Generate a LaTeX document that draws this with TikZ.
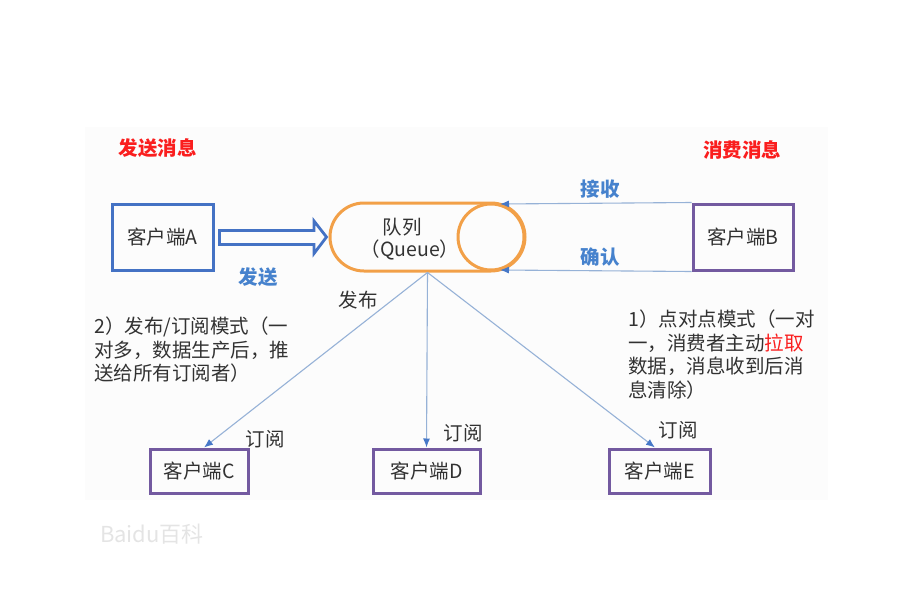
\documentclass[tikz,border=0pt]{standalone}
\usepackage{fontspec}
\setmainfont{Noto Sans CJK SC}
\usetikzlibrary{shapes.misc,arrows.meta,calc}
\definecolor{boxblue}{RGB}{68,114,196}
\definecolor{boxpurple}{RGB}{115,90,160}
\definecolor{qorange}{RGB}{242,160,72}
\definecolor{linkblue}{RGB}{150,178,215}
\definecolor{tipblue}{RGB}{70,120,200}
\definecolor{titlered}{RGB}{250,30,30}
\definecolor{labelblue}{RGB}{70,130,205}
\definecolor{txtgray}{RGB}{50,50,50}
\definecolor{bgfaint}{RGB}{252,252,252}
\definecolor{wmgray}{RGB}{228,228,228}
\begin{document}
\begin{tikzpicture}[x=1pt,y=-1pt,
  every node/.style={inner sep=0pt, font=\fontsize{19.5}{23.5}\selectfont, text=txtgray},
  clientA/.style={draw=boxblue, line width=3pt, minimum width=101pt, minimum height=66pt},
  clientB/.style={draw=boxpurple, line width=3pt, minimum width=100pt, minimum height=66pt},
  client/.style={draw=boxpurple, line width=3pt, minimum height=44pt},
  queuebox/.style={rounded rectangle, draw=qorange, line width=3pt, minimum width=195pt, minimum height=68pt},
  queueend/.style={circle, draw=qorange, line width=3pt, minimum size=66pt},
  link/.style={draw=linkblue, line width=1.1pt, -{Latex[length=9pt,width=7pt,color=tipblue]}},
  hollow/.style={draw=boxblue, line width=2.8pt, line join=miter},
  title/.style={text=titlered, font=\fontsize{19.5}{23.5}\selectfont\bfseries},
  bluelabel/.style={text=labelblue, font=\fontsize{19.5}{23.5}\selectfont\bfseries},
  note/.style={align=left, anchor=north west}
]
\useasboundingbox (0,0) rectangle (915,610);
\fill[bgfaint] (85,127) rectangle (828,500);

% titles
\node[title] (t1) at (157.5,148) {发送消息};
\node[title] (t2) at (742,150) {消费消息};

% clients
\node[clientA] (A) at (162.5,237) {客户端A};
\node[clientB] (B) at (743,237) {客户端B};
\node[client, minimum width=98pt] (C) at (199,471) {客户端C};
\node[client, minimum width=107pt] (D) at (426.5,471) {客户端D};
\node[client, minimum width=101pt] (E) at (659.5,471) {客户端E};

% queue
\node[queuebox] (Q) at (427.5,237) {};
\node[queueend] (Qend) at (491,237) {};
\node (qname) at (402,227) {队列};
\node (qsub) at (410,250) {（Queue）};

% hollow send arrow
\draw[hollow] ($(A.east)+(5,-6.5)$) -- ++(94.5,0) -- ++(0,-9.5) -- ($(Q.west)+(-2,0)$)
  -- ($(A.east)+(99.5,16.5)$) -- ++(0,-9) -- ($(A.east)+(5,7.5)$) -- cycle;
\node[bluelabel] (send) at (258,277) {发送};

% consumer links
\coordinate (qtop) at (500,204);
\coordinate (qbot) at (500,270);
\draw[link] (B.north west) -- (qtop);
\draw[link] (B.south west) -- (qbot);
\node[bluelabel] (recv) at (600,189) {接收};
\node[bluelabel] (ack) at (600,257) {确认};

% publish fan
\draw[link] (Q.south) -- ([xshift=5pt]C.north);
\draw[link] (Q.south) -- (D.north);
\draw[link] (Q.south) -- ([xshift=-4.5pt]E.north);
\node (pub) at (358,300) {发布};
\node (subC) at (265,439) {订阅};
\node (subD) at (463,433) {订阅};
\node (subE) at (678,430) {订阅};

% notes
\node[note] (n2) at (94,317) {2）发布/订阅模式（一\\对多，数据生产后，推\\送给所有订阅者）};
\node[note] (n1) at (628,310) {1）点对点模式（一对\\一，消费者主动{\color{titlered}拉取}\\数据，消息收到后消\\息清除）};

% watermark
\node[text=wmgray, font=\fontsize{22}{24}\selectfont] (wm) at (152,534) {Baidu百科};
\end{tikzpicture}
\end{document}
